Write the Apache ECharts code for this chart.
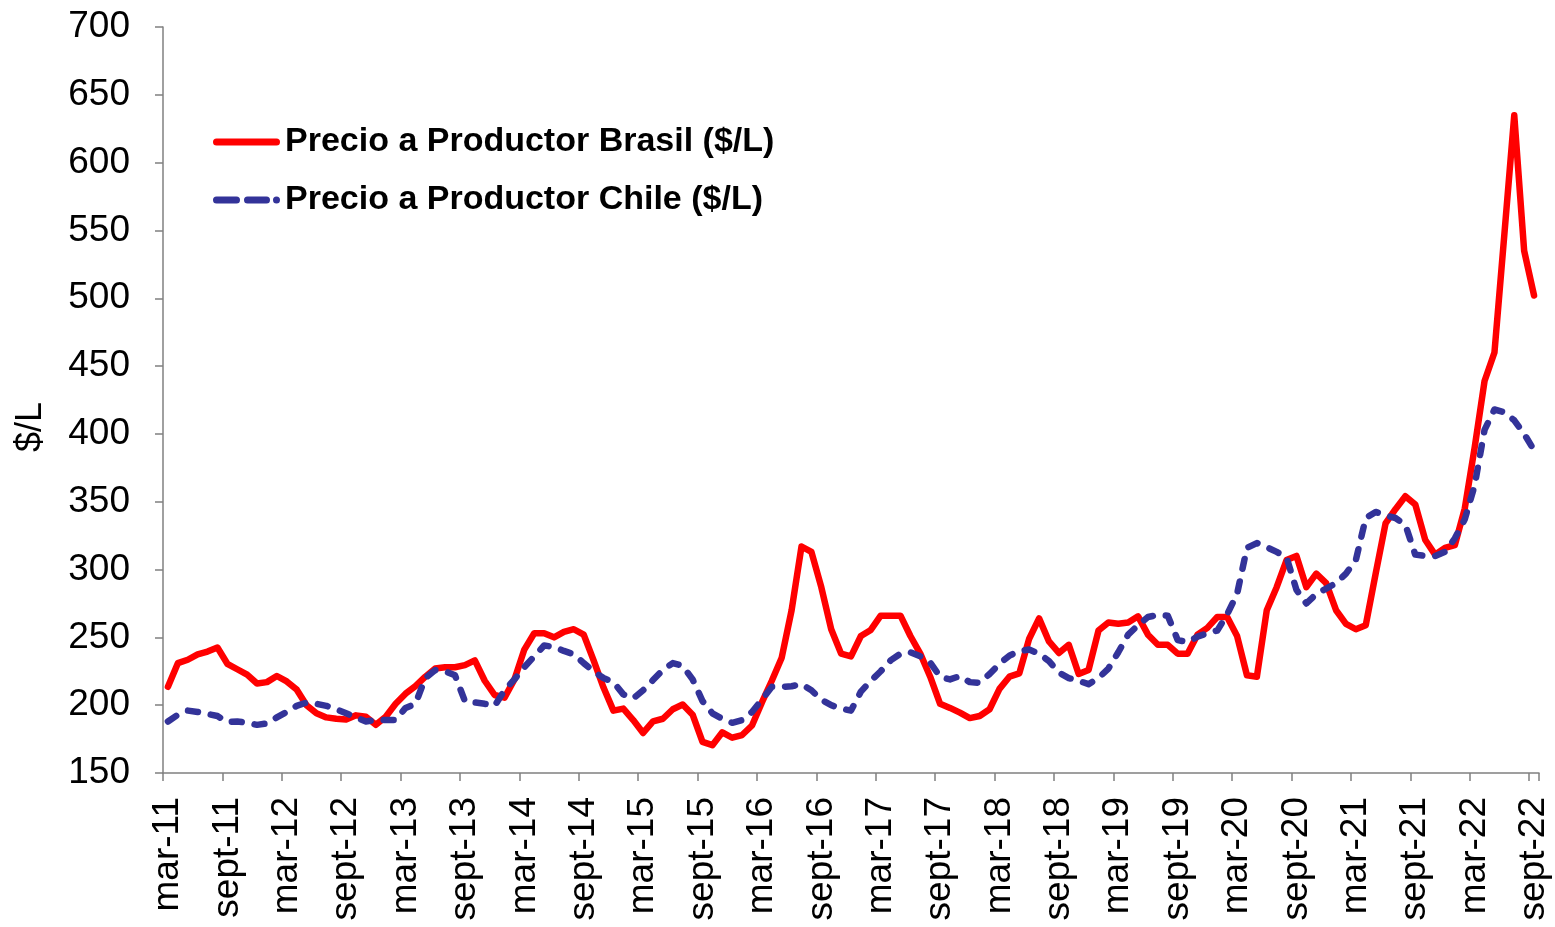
<!DOCTYPE html>
<html>
<head>
<meta charset="utf-8">
<script src="https://cdn.jsdelivr.net/npm/echarts@6/dist/echarts.min.js"></script>
<style>
html,body{margin:0;padding:0;background:#fff;}
#chart{width:1555px;height:927px;}
</style>
</head>
<body>
<div id="chart"></div>
<script>
// Month abbreviations used for category names (Spanish)
const monthNames = ['ene','feb','mar','abr','may','jun','jul','ago','sept','oct','nov','dic'];
const startYear = 11, startMonth = 2; // mar-11
const monthCount = 139;                // mar-11 .. sept-22

const seriesNames = ['Precio a Productor Brasil ($/L)', 'Precio a Productor Chile ($/L)'];

// Precio a Productor Brasil ($/L), monthly mar-11 .. sept-22
const brasil = [
  213.5, 231, 233.5, 237.5, 239.5, 242.5, 230.5, 226.5, 222.5, 216,
  217, 221.5, 217.5, 211.5, 200, 194, 191, 190, 189.5, 192.5,
  191.5, 185.5, 191.5, 201, 208.5, 214, 221, 227, 228, 228,
  229.5, 233, 218, 207.5, 205.5, 219, 241, 253, 253, 250,
  254, 256, 252, 233, 213, 196, 197.5, 189, 179.5, 188,
  190, 197, 200.5, 193, 173, 170.5, 180, 176, 178, 185,
  202, 218, 235, 270, 317, 313, 287, 256, 238, 236,
  251, 255.5, 266, 266, 266, 251, 238, 221, 201, 198,
  194.5, 190.5, 192, 197, 212, 221, 223.5, 249, 264, 247,
  238.5, 244.5, 223, 226, 255, 261, 260, 261, 265.5, 252,
  244.5, 244.5, 238, 238, 252, 257, 265, 265, 251, 222,
  221, 270, 287, 307, 310, 287, 297, 290, 270, 260,
  256, 259, 297, 334, 344.5, 354, 348, 322, 311, 316,
  318, 345, 390, 439, 460, 547, 635, 535, 502
];

// Precio a Productor Chile ($/L), monthly mar-11 .. sept-22
const chile = [
  188, 193, 196, 195, 193.5, 192, 187.5, 188, 187, 185.5,
  186.5, 191, 195, 199.5, 202, 201, 199.5, 197, 194, 191,
  188, 189, 189, 189, 198, 201, 220, 226, 225, 222,
  203, 202, 201, 199.5, 211, 219, 228, 236, 244, 243,
  240, 237.5, 231, 225, 220, 217, 208, 205, 211, 218.5,
  226, 231, 229, 219, 203, 194, 190, 187, 189, 195,
  204, 213.5, 213.5, 214, 215.5, 211, 204, 200, 197.5, 196,
  210, 218, 225, 233, 238, 239, 236, 231.5, 221, 219,
  221.5, 217, 216.5, 223, 230.5, 236.5, 240, 241, 238, 232.5,
  224, 220, 218, 215.5, 220, 227, 239, 252, 259, 265,
  266.5, 266, 248, 246.5, 250.5, 253, 255, 267, 282, 316,
  319.5, 316.5, 313, 309, 285, 275, 282, 286, 290, 297,
  307, 338, 342.5, 340, 338, 333, 311, 310, 310, 313,
  323, 337, 362, 403, 418, 416, 410, 400, 388
];

const categories = [];
for (let k = 0; k < monthCount; k++) {
  const m = (startMonth + k) % 12;
  const y = startYear + Math.floor((startMonth + k) / 12);
  categories.push(monthNames[m] + '-' + y);
}

// legend icons: solid bar and dashed bar with rounded ends
const iconSolid = 'path://M3.5,0 H63.5 A3.5,3.5 0 0 1 63.5,7 H3.5 A3.5,3.5 0 0 1 3.5,0 Z';
const iconDashed = 'path://M3.5,0 H23.5 A3.5,3.5 0 0 1 23.5,7 H3.5 A3.5,3.5 0 0 1 3.5,0 Z ' +
                   'M34.5,0 H53.5 A3.5,3.5 0 0 1 53.5,7 H34.5 A3.5,3.5 0 0 1 34.5,0 Z ' +
                   'M63.5,0 A3.5,3.5 0 0 1 63.5,7 A3.5,3.5 0 0 1 63.5,0 Z';

const FONT = "'Liberation Sans', Arial, Helvetica, sans-serif";
const chart = echarts.init(document.getElementById('chart'));
chart.setOption({
  animation: false,
  backgroundColor: '#ffffff',
  textStyle: { fontFamily: FONT },
  grid: { left: 163, right: 16, top: 27, bottom: 154, containLabel: false },
  legend: {
    orient: 'vertical',
    left: 208,
    top: 120,
    itemWidth: 67,
    itemHeight: 7,
    itemGap: 24,
    textStyle: { fontSize: 34, fontWeight: 'bold', color: '#000', fontFamily: FONT },
    data: [
      { name: seriesNames[0], icon: iconSolid },
      { name: seriesNames[1], icon: iconDashed }
    ]
  },
  xAxis: {
    type: 'category',
    data: categories,
    boundaryGap: true,
    axisLine: { show: true, lineStyle: { color: '#808080', width: 1.5 } },
    axisTick: { show: true, interval: 5, length: 8, lineStyle: { color: '#808080', width: 1.5 } },
    axisLabel: { interval: 5, rotate: 90, margin: 24, fontSize: 37, color: '#000', fontFamily: FONT },
    splitLine: { show: false }
  },
  yAxis: {
    type: 'value',
    min: 150,
    max: 700,
    interval: 50,
    name: '$/L',
    nameLocation: 'middle',
    nameGap: 114,
    nameTextStyle: { fontSize: 36, color: '#000', fontFamily: FONT, padding: [0, 54, 0, 0] },
    axisLine: { show: true, lineStyle: { color: '#808080', width: 1.5 } },
    axisTick: { show: true, length: 8, lineStyle: { color: '#808080', width: 1.5 } },
    axisLabel: { margin: 33, fontSize: 37, color: '#000', fontFamily: FONT },
    splitLine: { show: false }
  },
  series: [
    {
      name: seriesNames[0],
      type: 'line',
      data: brasil,
      symbol: 'none',
      z: 2,
      lineStyle: { color: '#FF0000', width: 6.5, join: 'round', cap: 'round' },
      itemStyle: { color: '#FF0000' }
    },
    {
      name: seriesNames[1],
      type: 'line',
      data: chile,
      symbol: 'none',
      z: 3,
      lineStyle: { color: '#333399', width: 6.5, type: [10, 13], cap: 'round', join: 'round' },
      itemStyle: { color: '#333399' }
    }
  ]
});
</script>
</body>
</html>
